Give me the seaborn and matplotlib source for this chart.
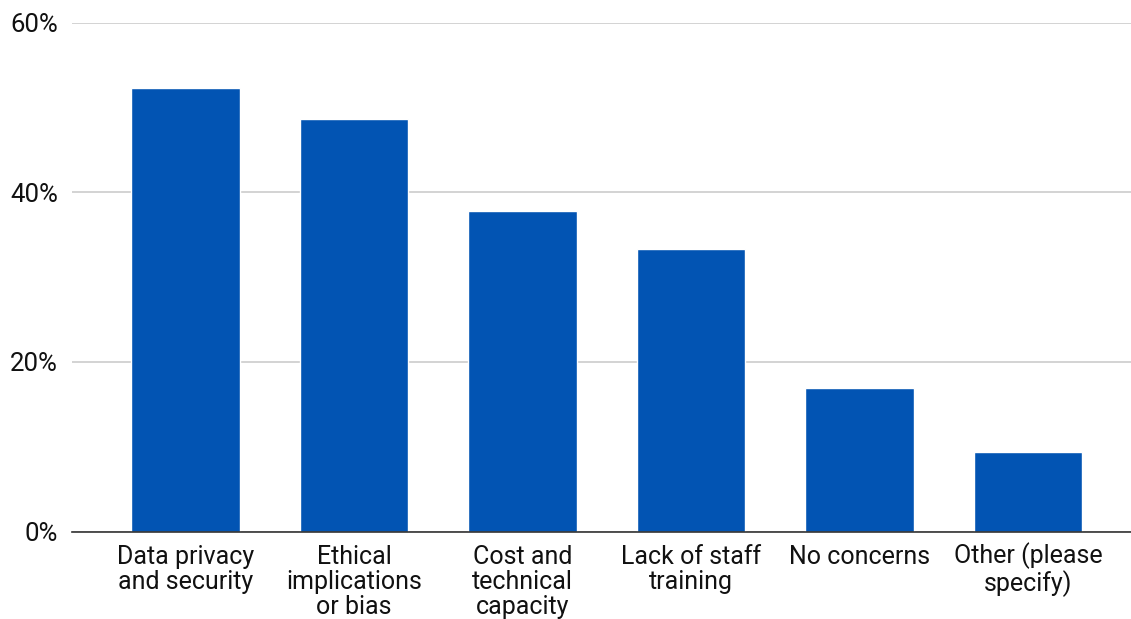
import matplotlib
matplotlib.use("Agg")
import matplotlib.pyplot as plt
import seaborn as sns
import pandas as pd
from matplotlib.ticker import FuncFormatter

categories = [
    "Data privacy\nand security",
    "Ethical\nimplications\nor bias",
    "Cost and\ntechnical\ncapacity",
    "Lack of staff\ntraining",
    "No concerns",
    "Other (please\nspecify)",
]
values = [52.3, 48.6, 37.8, 33.3, 16.9, 9.4]
y_ticks = [0, 20, 40, 60]

df = pd.DataFrame({"category": categories, "value": values})

sns.set_theme(style="white")
plt.rcParams["font.family"] = ["Roboto", "DejaVu Sans"]

fig = plt.figure(figsize=(11.31, 6.19), dpi=100)
ax = fig.add_axes([72 / 1131, 87.5 / 619, 1 - 72 / 1131, (531.5 - 22.5) / 619])

sns.barplot(data=df, x="category", y="value", color="#0254b3", saturation=1,
            width=0.644, ax=ax)

ax.set_xlim(-0.675, 5.61)
ax.set_ylim(0, 60)
ax.set_yticks(y_ticks)
ax.yaxis.set_major_formatter(FuncFormatter(lambda v, p: f"{int(v)}%"))
ax.grid(axis="y", color="#cccccc", linewidth=1.2)
ax.set_axisbelow(True)
for s in ["left", "right", "top"]:
    ax.spines[s].set_visible(False)
ax.spines["bottom"].set_color("#333333")
ax.spines["bottom"].set_linewidth(1.2)
ax.spines["bottom"].set_zorder(5)
ax.set_xlabel("")
ax.set_ylabel("")
ax.tick_params(axis="y", length=0, pad=10, labelsize=18.5, labelcolor="#111111")
ax.tick_params(axis="x", length=0, pad=10, labelsize=18, labelcolor="#111111")
for lbl in ax.get_xticklabels():
    lbl.set_linespacing(1.05)
    lbl.set_horizontalalignment("center")
    lbl.set_verticalalignment("top")
    if "(" in lbl.get_text():
        lbl.set_y(0.006)

fig.savefig("out.png", dpi=100)
